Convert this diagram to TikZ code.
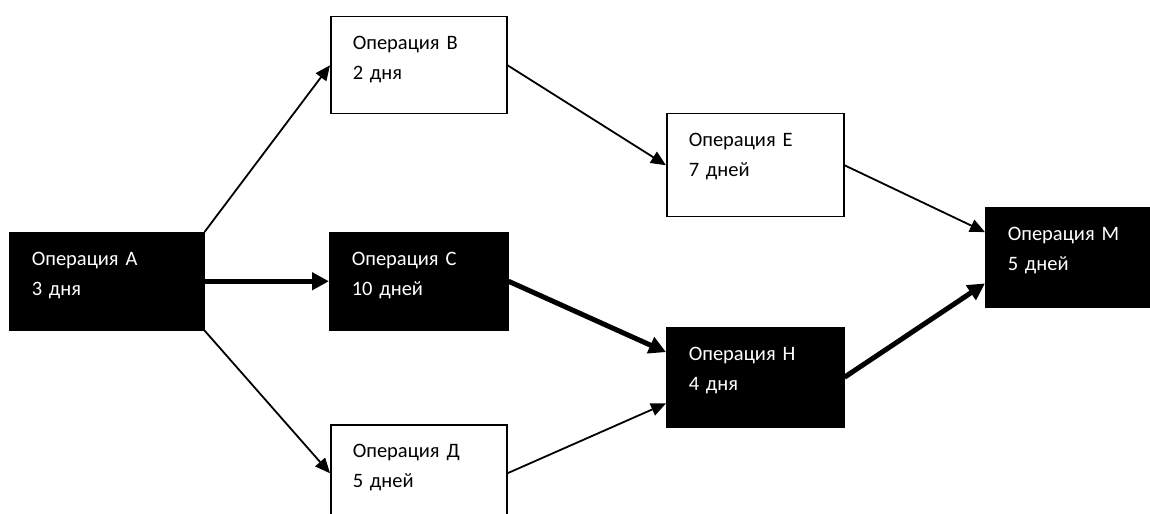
\documentclass[tikz,border=0pt]{standalone}
\usepackage{fontspec}
\setmainfont{Carlito}
\usetikzlibrary{arrows.meta,calc}
\begin{document}
\begin{tikzpicture}[x=1bp,y=-1bp,
  opbox/.style={draw=black,line width=1.5bp,anchor=north west,inner xsep=22bp,inner ysep=0pt,
    align=left,font=\fontsize{20.5bp}{30bp}\selectfont,text height=33bp},
  crit/.style={opbox,fill=black,text=white},
  plain/.style={opbox,fill=white,text=black},
  thinarrow/.style={line width=1.8bp,-{Triangle[length=15bp,width=13bp]}},
  thickarrow/.style={line width=5bp,-{Triangle[length=17bp,width=17bp]}}]
\useasboundingbox (0,0) rectangle (1150,514);
\clip (0,0) rectangle (1150,514);
\node[crit,  text width=150bp, text depth=64bp] (A) at (9,232)   {Операция А\\3 дня};
\node[plain, text width=132bp, text depth=64bp] (B) at (330,16)  {Операция В\\2 дня};
\node[crit,  text width=134bp, text depth=64bp] (C) at (329,232) {Операция С\\10 дней};
\node[plain, text width=132bp, text depth=64bp] (D) at (330,424) {Операция Д\\5 дней};
\node[plain, text width=133bp, text depth=70bp] (E) at (666,113) {Операция Е\\7 дней};
\node[crit,  text width=133bp, text depth=66bp] (H) at (666,327) {Операция Н\\4 дня};
\node[crit,  text width=132bp, text depth=66bp] (M) at (985,207) {Операция М\\5 дней};
\draw[thinarrow] (A.north east) -- (B.west);
\draw[thickarrow] (A.east) -- (C.west);
\draw[thinarrow] (A.south east) -- (D.west);
\draw[thinarrow] (B.east) -- (E.west);
\draw[thickarrow] (C.east) -- ($(H.north west)!0.25!(H.south west)$);
\draw[thinarrow] (D.east) -- ($(H.north west)!0.76!(H.south west)$);
\draw[thinarrow] (E.east) -- ($(M.north west)!0.25!(M.south west)$);
\draw[thickarrow] (H.east) -- ($(M.north west)!0.76!(M.south west)$);
\end{tikzpicture}
\end{document}
